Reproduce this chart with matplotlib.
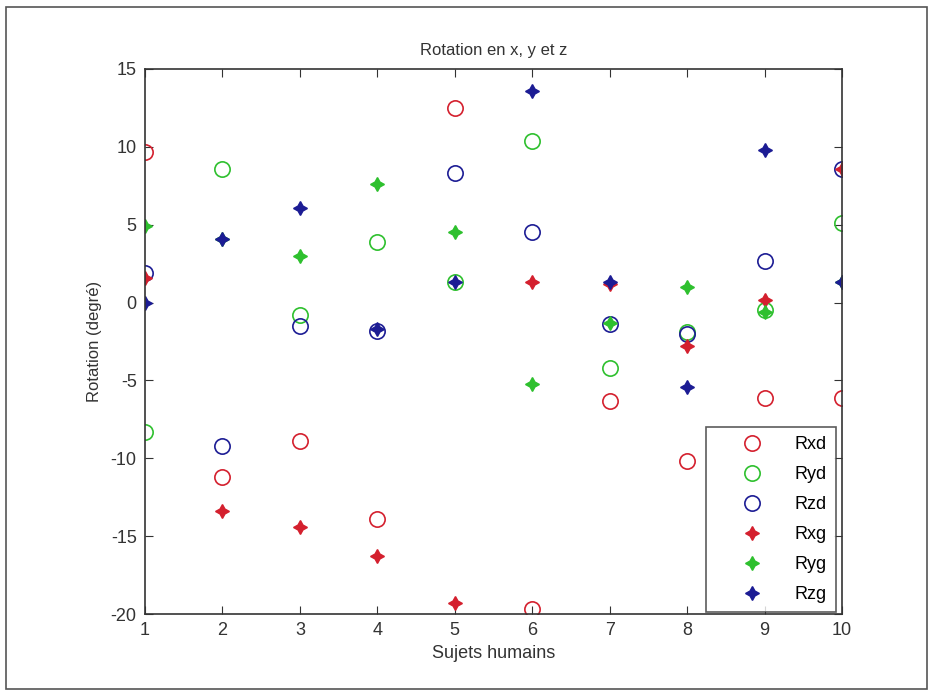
import matplotlib.pyplot as plt
from matplotlib.patches import Rectangle

# subjects 1..10
sujets = [1, 2, 3, 4, 5, 6, 7, 8, 9, 10]

# right side (circles)
rxd = [9.7, -11.2, -8.9, -13.9, 12.5, -19.7, -6.3, -10.2, -6.1, -6.1]
ryd = [-8.3, 8.6, -0.8, 3.9, 1.3, 10.4, -4.2, -1.9, -0.5, 5.1]
rzd = [1.9, -9.2, -1.5, -1.8, 8.3, 4.5, -1.35, -2.05, 2.7, 8.6]

# left side (stars)
rxg = [1.6, -13.4, -14.4, -16.3, -19.3, 1.3, 1.2, -2.8, 0.15, 8.6]
ryg = [4.9, 4.1, 3.0, 7.6, 4.55, -5.2, -1.3, 1.0, -0.6, 1.3]
rzg = [0.0, 4.1, 6.05, -1.7, 1.3, 13.6, 1.3, -5.4, 9.8, 1.35]

red = '#d4202e'
green = '#2ec02e'
blue = '#1c1c94'
star = (4, 1, 0)

plt.rcParams['font.family'] = ['Liberation Sans', 'DejaVu Sans']
plt.rcParams['axes.unicode_minus'] = False

fig = plt.figure(figsize=(9.33, 6.96), dpi=100)
ax = fig.add_axes([0.1554, 0.1178, 0.7471, 0.7831])

ax.plot(sujets, rxd, 'o', mfc='none', mec=red, ms=11, mew=1.2, label='Rxd')
ax.plot(sujets, ryd, 'o', mfc='none', mec=green, ms=11, mew=1.2, label='Ryd')
ax.plot(sujets, rzd, 'o', mfc='none', mec=blue, ms=11, mew=1.2, label='Rzd')
ax.plot(sujets, rxg, marker=star, ls='none', color=red, ms=10, label='Rxg')
ax.plot(sujets, ryg, marker=star, ls='none', color=green, ms=10, label='Ryg')
ax.plot(sujets, rzg, marker=star, ls='none', color=blue, ms=10, label='Rzg')

ax.set_xlim(1, 10)
ax.set_ylim(-20, 15)
ax.set_xticks(sujets)
ax.set_yticks(range(-20, 16, 5))
for s in ax.spines.values():
    s.set_color('#333333')
    s.set_linewidth(1.2)
ax.tick_params(direction='in', top=True, right=True, length=6, labelsize=13,
               colors='#333333', pad=6)

ax.set_title('Rotation en x, y et z', fontsize=12, pad=10, color='#333333')
ax.set_xlabel('Sujets humains', fontsize=13, color='#333333', labelpad=4)
ax.set_ylabel('Rotation (degré)', fontsize=12, color='#333333', labelpad=6)

leg = ax.legend(loc='lower right', bbox_to_anchor=(0.9914, 0.0037),
                fontsize=13, frameon=True, fancybox=False,
                borderaxespad=0, handletextpad=0.35, labelspacing=0.72,
                borderpad=0.5, handlelength=4.1)
leg.get_frame().set_edgecolor('#333333')
leg.get_frame().set_linewidth(1.2)

# outer frame around the whole picture
fig.patches.append(Rectangle((0.006, 0.01), 0.988, 0.98, transform=fig.transFigure,
                             fill=False, edgecolor='#555555', linewidth=1.2))

fig.savefig('out.png', dpi=100)
